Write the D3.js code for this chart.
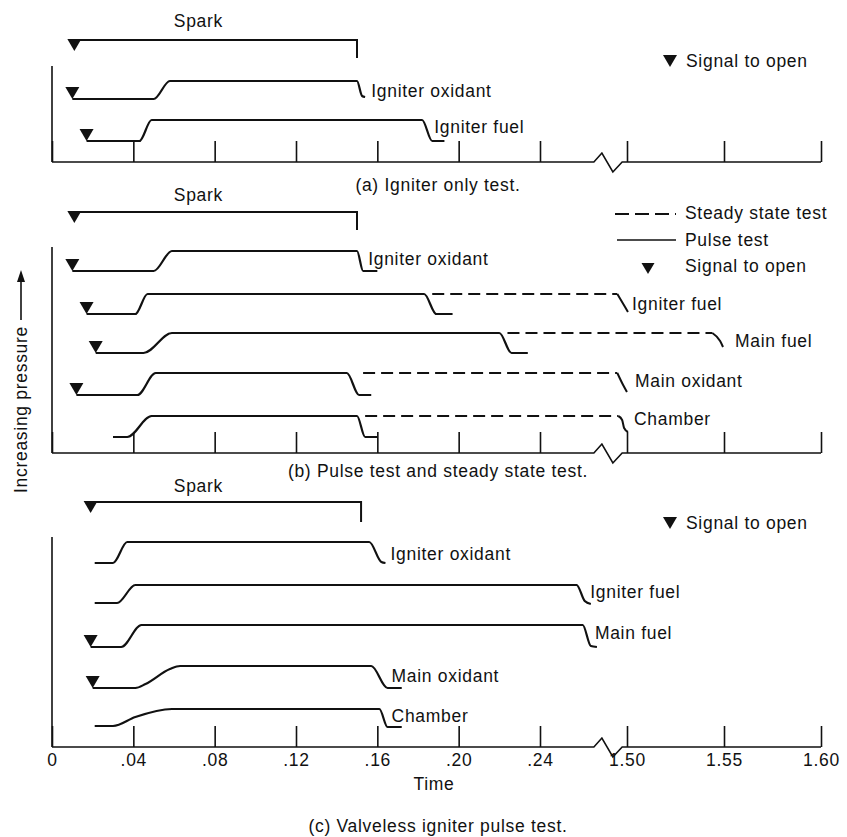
<!DOCTYPE html>
<html>
<head>
<meta charset="utf-8">
<title>Valve opening sequence</title>
<script src="https://d3js.org/d3.v7.min.js"></script>
<style>
  body { margin: 0; background: #fff; }
  svg text { font-family: "Liberation Sans", Arial, sans-serif; font-size: 17.5px; letter-spacing: 0.7px; fill: #111; }
</style>
</head>
<body>
<div id="chart"></div>
<script>
// time ticks, left and right of the axis break
var leftTicks = [0, 0.04, 0.08, 0.12, 0.16, 0.20, 0.24];
var rightTicks = [1.50, 1.55, 1.60];

// (a) igniter only test -- points are [time, pressure]
var aSpark = [[0.011, 12.2], [0.150, 12.2], [0.150, 10.4]];
var aIgnOx = [[0.010, 6.3], [0.050, 6.3], [0.058, 8.1], [0.150, 8.1], [0.1525, 6.6], [0.154, 6.5]];
var aIgnFuel = [[0.017, 2.1], [0.043, 2.1], [0.049, 4.2], [0.182, 4.2], [0.187, 2.1], [0.193, 2.1]];
var aSignals = [[0.010, 6.3], [0.017, 2.1]];
var aLabels = [["Igniter oxidant", 0.157, 6.5], ["Igniter fuel", 0.188, 2.9]];

// (b) pulse test (solid) and steady state test (dashed)
var bSpark = [[0.011, 24.1], [0.150, 24.1], [0.150, 22.3]];
var bIgnOx = [[0.010, 18.2], [0.050, 18.2], [0.059, 20.2], [0.150, 20.2], [0.153, 18.2], [0.160, 18.2]];
var bIgnFuel = [[0.017, 13.9], [0.041, 13.9], [0.047, 15.9], [0.183, 15.9], [0.189, 13.9], [0.197, 13.9]];
var bIgnFuelSteady = [[0.187, 15.9], [1.495, 15.9], [1.499, 14.6], [1.5005, 14.1]];
var bMainFuel = [[0.0215, 10.0], [0.045, 10.0], [0.059, 12.0], [0.220, 12.0], [0.226, 10.0], [0.234, 10.0]];
var bMainFuelSteady = [[0.224, 12.0], [1.544, 12.0], [1.548, 11.2], [1.5495, 10.6]];
var bMainOx = [[0.012, 5.8], [0.042, 5.8], [0.051, 8.0], [0.145, 8.0], [0.151, 5.8], [0.157, 5.8]];
var bMainOxSteady = [[0.153, 8.0], [1.495, 8.0], [1.498, 6.8], [1.500, 6.1]];
var bChamber = [[0.030, 1.6], [0.037, 1.6], [0.049, 3.7], [0.150, 3.7], [0.154, 1.6], [0.160, 1.6]];
var bChamberSteady = [[0.154, 3.7], [1.4955, 3.7], [1.4975, 3.3], [1.4985, 2.5], [1.5005, 2.1]];
var bSignals = [[0.010, 18.2], [0.017, 13.9], [0.0215, 10.0], [0.012, 5.8]];
var bLabels = [["Igniter oxidant", 0.1555, 18.8], ["Igniter fuel", 1.5026, 14.3], ["Main fuel", 1.5557, 10.6],
               ["Main oxidant", 1.5041, 6.6], ["Chamber", 1.5036, 2.8]];

// (c) valveless igniter pulse test
var cSpark = [[0.019, 24.5], [0.152, 24.5], [0.152, 22.5]];
var cIgnOx = [[0.021, 18.4], [0.030, 18.4], [0.037, 20.5], [0.156, 20.5], [0.162, 18.5], [0.164, 18.4]];
var cIgnFuel = [[0.021, 14.4], [0.032, 14.4], [0.041, 16.2], [0.258, 16.2], [0.262, 14.6], [0.265, 14.3]];
var cMainFuel = [[0.019, 10.0], [0.034, 10.0], [0.044, 12.2], [0.261, 12.2], [0.265, 10.1], [0.268, 10.0]];
var cMainOx = [[0.020, 5.9], [0.041, 5.9], [0.046, 6.3], [0.058, 7.8], [0.063, 8.1], [0.157, 8.1], [0.165, 5.9], [0.172, 5.9]];
var cChamber = [[0.021, 2.1], [0.030, 2.1], [0.041, 3.0], [0.059, 3.8], [0.161, 3.8], [0.165, 2.0], [0.172, 2.0]];
var cSignals = [[0.019, 10.0], [0.020, 5.9]];
var cLabels = [["Igniter oxidant", 0.1665, 18.7], ["Igniter fuel", 0.2647, 14.9], ["Main fuel", 0.267, 10.8],
               ["Main oxidant", 0.167, 6.5], ["Chamber", 0.167, 2.5]];

var captions = ["(a) Igniter only test.", "(b) Pulse test and steady state test.", "(c) Valveless igniter pulse test."];

var panels = [
  {base: 162, top: 9.6, spark: aSpark, sparkLabel: 13.5, pulse: [aIgnOx, aIgnFuel], steady: [],
   signals: aSignals, labels: aLabels, caption: captions[0], capY: 191, ticks: false},
  {base: 453, top: 20.6, spark: bSpark, sparkLabel: 25.2, pulse: [bIgnOx, bIgnFuel, bMainFuel, bMainOx, bChamber],
   steady: [bIgnFuelSteady, bMainFuelSteady, bMainOxSteady, bChamberSteady],
   signals: bSignals, labels: bLabels, caption: captions[1], capY: 477, ticks: false},
  {base: 747, top: 21.0, spark: cSpark, sparkLabel: 25.5, pulse: [cIgnOx, cIgnFuel, cMainFuel, cMainOx, cChamber], steady: [],
   signals: cSignals, labels: cLabels, caption: captions[2], capY: 832, ticks: true}
];

var width = 847, height = 837;
var ink = "#111";

var svg = d3.select("#chart").append("svg")
  .attr("width", width)
  .attr("height", height);

// broken time axis: two linear scales
var xLeft = d3.scaleLinear().domain([0, 0.24]).range([52, 540]);
var xRight = d3.scaleLinear().domain([1.50, 1.60]).range([627, 821]);
function xt(t) { return t < 1 ? xLeft(t) : xRight(t); }
var breakFrom = 0.2665, breakTo = 1.4975;

var tickFmt = function(t) {
  if (t === 0) return "0";
  var s = d3.format(".2f")(t);
  return t < 1 ? s.slice(1) : s;
};

// signal-to-open marker, down pointing triangle
function tri(x, yTop, w, h) {
  w = w || 14; h = h || 12;
  return "M" + (x - w / 2) + "," + yTop + "L" + (x + w / 2) + "," + yTop + "L" + x + "," + (yTop + h) + "Z";
}

panels.forEach(function(p) {
  var y = d3.scaleLinear().domain([0, 10]).range([p.base, p.base - 100]);
  var g = svg.append("g");

  var smooth = d3.line()
    .x(function(d) { return xt(d[0]); })
    .y(function(d) { return y(d[1]); })
    .curve(d3.curveMonotoneX);
  var straight = d3.line()
    .x(function(d) { return xt(d[0]); })
    .y(function(d) { return y(d[1]); });

  // y axis
  g.append("line")
    .attr("x1", xLeft(0)).attr("x2", xLeft(0))
    .attr("y1", y(p.top)).attr("y2", y(0))
    .attr("stroke", ink).attr("stroke-width", 1.6);

  // baseline with the break zig-zag
  var x0 = xLeft(breakFrom), x1 = xRight(breakTo), b = y(0);
  g.append("path")
    .attr("d", "M" + xLeft(0) + "," + b + "L" + x0 + "," + b +
               "L" + (x0 + 8) + "," + (b - 9) + "L" + (x0 + 19) + "," + (b + 10) +
               "L" + x1 + "," + b + "L" + xRight(1.60) + "," + b)
    .attr("fill", "none").attr("stroke", ink).attr("stroke-width", 1.6);

  // ticks pointing up, labels only on the bottom panel
  [[xLeft, leftTicks], [xRight, rightTicks]].forEach(function(s) {
    var ax = d3.axisBottom(s[0])
      .tickValues(s[1])
      .tickSize(-21)
      .tickPadding(7)
      .tickFormat(p.ticks ? tickFmt : "");
    var a = g.append("g")
      .attr("transform", "translate(0," + b + ")")
      .call(ax);
    a.select(".domain").remove();
    a.selectAll(".tick line").attr("stroke", ink).attr("stroke-width", 1.6);
    a.selectAll(".tick text")
      .attr("fill", ink)
      .style("font-family", "'Liberation Sans', Arial, sans-serif")
      .style("font-size", "17.5px");
  });

  // spark
  g.append("path")
    .attr("d", straight(p.spark))
    .attr("fill", "none").attr("stroke", ink).attr("stroke-width", 2);
  g.append("path")
    .attr("d", tri(xt(p.spark[0][0]), y(p.spark[0][1]) - 1))
    .attr("fill", ink);
  g.append("text")
    .attr("x", xLeft(0.072)).attr("y", y(p.sparkLabel))
    .attr("text-anchor", "middle")
    .text("Spark");

  // steady state runs: dashed level, solid end hook
  p.steady.forEach(function(s) {
    g.append("path")
      .attr("d", straight(s.slice(0, 2)))
      .attr("fill", "none").attr("stroke", ink).attr("stroke-width", 2)
      .attr("stroke-dasharray", "12,6");
    g.append("path")
      .attr("d", smooth(s.slice(1)))
      .attr("fill", "none").attr("stroke", ink).attr("stroke-width", 2);
  });

  // pulse traces
  g.selectAll("path.pulse")
    .data(p.pulse)
    .enter()
    .append("path")
    .attr("class", "pulse")
    .attr("d", smooth)
    .attr("fill", "none")
    .attr("stroke", ink)
    .attr("stroke-width", 2.2)
    .attr("stroke-linejoin", "round");

  // signal markers sit on the start of each trace
  g.selectAll("path.sig")
    .data(p.signals)
    .enter()
    .append("path")
    .attr("class", "sig")
    .attr("d", function(d) { return tri(xt(d[0]), y(d[1]) - 12); })
    .attr("fill", ink);

  g.selectAll("text.lbl")
    .data(p.labels)
    .enter()
    .append("text")
    .attr("class", "lbl")
    .attr("x", function(d) { return xt(d[1]); })
    .attr("y", function(d) { return y(d[2]); })
    .text(function(d) { return d[0]; });

  g.append("text")
    .attr("x", 438).attr("y", p.capY)
    .attr("text-anchor", "middle")
    .text(p.caption);
});

// legends
svg.append("path").attr("d", tri(670, 55)).attr("fill", ink);
svg.append("text").attr("x", 686).attr("y", 67).text("Signal to open");

svg.append("line").attr("x1", 615).attr("x2", 676).attr("y1", 214).attr("y2", 214)
  .attr("stroke", ink).attr("stroke-width", 2).attr("stroke-dasharray", "14,6");
svg.append("text").attr("x", 685).attr("y", 219).text("Steady state test");
svg.append("line").attr("x1", 617).attr("x2", 676).attr("y1", 240).attr("y2", 240)
  .attr("stroke", ink).attr("stroke-width", 1.6);
svg.append("text").attr("x", 685).attr("y", 246).text("Pulse test");
svg.append("path").attr("d", tri(648, 263, 13, 11)).attr("fill", ink);
svg.append("text").attr("x", 685).attr("y", 272).text("Signal to open");

svg.append("path").attr("d", tri(670, 517)).attr("fill", ink);
svg.append("text").attr("x", 686).attr("y", 529).text("Signal to open");

// x title
svg.append("text").attr("x", 434).attr("y", 790).attr("text-anchor", "middle").text("Time");

// y title with arrow
svg.append("text")
  .attr("transform", "translate(27,493) rotate(-90)")
  .text("Increasing pressure");
svg.append("line").attr("x1", 21).attr("x2", 21).attr("y1", 320).attr("y2", 280)
  .attr("stroke", ink).attr("stroke-width", 1.6);
svg.append("path").attr("d", "M21,270L17,282L25,282Z").attr("fill", ink);
</script>
</body>
</html>
